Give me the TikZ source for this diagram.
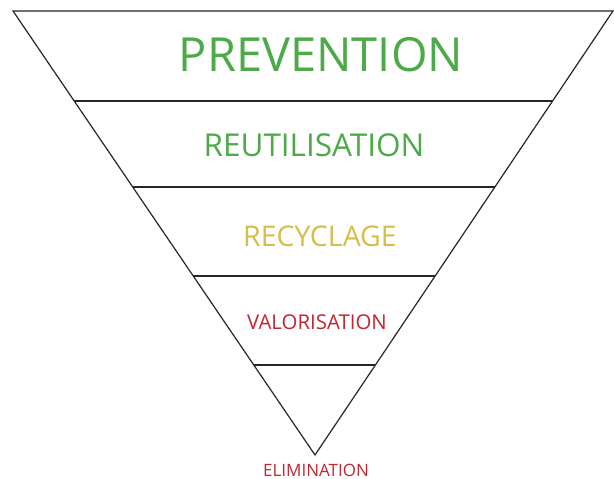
\documentclass[tikz,border=0pt]{standalone}
\usepackage{fontspec}
\setmainfont{Open Sans}
\usetikzlibrary{calc}
\definecolor{prevgreen}{RGB}{76,170,72}
\definecolor{recyellow}{RGB}{214,190,72}
\definecolor{elimred}{RGB}{196,38,48}
\begin{document}
\begin{tikzpicture}[x=1pt,y=-1pt,
  thick,level line/.style={line width=1.2pt,draw=black!85},
  level text/.style={inner sep=0pt,anchor=center}]
  \useasboundingbox[fill=white] (0,0) rectangle (614,479);

  \coordinate (tl) at (13,11);
  \coordinate (tr) at (613,11);
  \coordinate (apex) at (315,455);

  \draw[level line,line join=miter] (tl) -- (tr) -- (apex) -- cycle;
  \foreach \t in {0.2027,0.3964,0.5968,0.7973}
    \draw[level line] ($(tl)!\t!(apex)$) -- ($(tr)!\t!(apex)$);

  \node[level text,text=prevgreen,font=\fontsize{47}{52}\selectfont] (prevention) at (321,55) {PREVENTION};
  \node[level text,text=prevgreen,font=\fontsize{31.5}{36}\selectfont] (reutilisation) at (314,145) {REUTILISATION};
  \node[level text,text=recyellow,font=\fontsize{28.5}{33}\selectfont] (recyclage) at (320,236) {RECYCLAGE};
  \node[level text,text=elimred,font=\fontsize{20.4}{24}\selectfont] (valorisation) at (317,322) {VALORISATION};
  \node[level text,text=elimred,font=\fontsize{17}{20}\selectfont] (elimination) at (316,470) {ELIMINATION};
\end{tikzpicture}
\end{document}
